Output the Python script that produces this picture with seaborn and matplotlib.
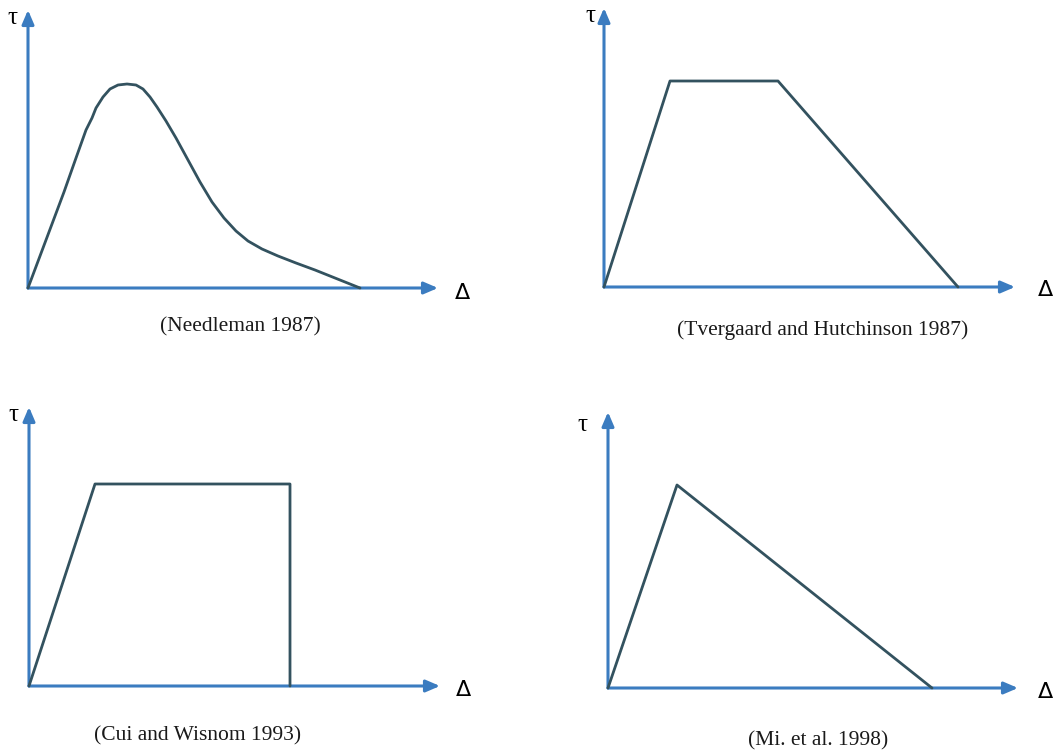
import matplotlib
matplotlib.use("Agg")
import matplotlib.pyplot as plt
import seaborn as sns
import pandas as pd

sns.set_theme(style="white")
plt.rcParams["font.family"] = ["Liberation Serif", "DejaVu Serif"]

W, H = 1056, 753

# Traction-separation laws (separation Δ, traction τ; arbitrary units)
needleman_delta = [0, 12, 24, 36, 48, 58, 64, 68, 75, 82, 90, 99, 108, 115, 122,
                   129, 138, 148, 160, 172, 184, 196, 208, 220, 234, 250, 268,
                   287, 307, 332]
needleman_tau = [0, 32, 64, 96, 130, 158, 170, 180, 191, 199, 203, 204, 203, 199,
                 191, 181, 167, 150, 128, 106, 86, 70, 57, 47, 39, 32, 25, 18,
                 10, 0]

tvergaard_delta = [0, 66, 174, 354]
tvergaard_tau = [0, 206, 206, 0]

cui_delta = [0, 66, 261, 261]
cui_tau = [0, 202, 202, 0]

mi_delta = [0, 69, 324]
mi_tau = [0, 203, 0]

captions = ["(Needleman 1987)", "(Tvergaard and Hutchinson 1987)",
            "(Cui and Wisnom 1993)", "(Mi. et al. 1998)"]

# Panel frames in pixels: origin x, origin y, x-arrow tip, y-arrow tip
frames = [(28, 288, 438, 10), (604, 287, 1015, 8),
          (29, 686, 440, 407), (608, 688, 1018, 412)]
# label anchors: τ position, Δ position, caption centre (pixels)
tau_pos = [(12, 18), (590, 16), (13, 415), (582, 425)]
delta_pos = [(462, 293), (1045, 290), (463, 690), (1045, 692)]
cap_pos = [(240, 327), (823, 330), (198, 736), (818, 741)]

series = [(needleman_delta, needleman_tau), (tvergaard_delta, tvergaard_tau),
          (cui_delta, cui_tau), (mi_delta, mi_tau)]

AXIS_BLUE = "#3b7cc0"
CURVE = "#33525f"

fig = plt.figure(figsize=(W / 100, H / 100), dpi=100)
fig.patch.set_facecolor("white")

for i, ((ox, oy, xt, yt), (d, t)) in enumerate(zip(frames, series)):
    ax = fig.add_axes([ox / W, (H - oy) / H, (xt - ox) / W, (oy - yt) / H])
    df = pd.DataFrame({"delta": d, "tau": t})
    sns.lineplot(data=df, x="delta", y="tau", sort=False, estimator=None,
                 color=CURVE, lw=2.0, ax=ax, clip_on=False, zorder=3)
    ax.lines[-1].set_solid_joinstyle("round")
    ax.set_xlim(0, xt - ox)
    ax.set_ylim(0, oy - yt)
    ax.set_axis_off()
    arrow = dict(arrowstyle="-|>,head_length=0.7,head_width=0.3",
                 color=AXIS_BLUE, lw=2.2, shrinkA=0, shrinkB=0)
    ax.annotate("", xy=(1, 0), xytext=(0, 0), xycoords="axes fraction",
                arrowprops=arrow, annotation_clip=False, zorder=2)
    ax.annotate("", xy=(0, 1), xytext=(0, 0), xycoords="axes fraction",
                arrowprops=arrow, annotation_clip=False, zorder=2)

    tx, ty = tau_pos[i]
    fig.text(tx / W, 1 - ty / H, "τ", ha="center", va="center",
             fontsize=18, color="black")
    dx, dy = delta_pos[i]
    fig.text(dx / W, 1 - dy / H, "Δ", ha="center", va="center",
             fontsize=16, color="black", family=["DejaVu Sans"])
    cx, cy = cap_pos[i]
    fig.text(cx / W, 1 - cy / H, captions[i], ha="center", va="center",
             fontsize=15.5, color="#1a1a1a")

fig.savefig("out.png", dpi=100, facecolor="white")
